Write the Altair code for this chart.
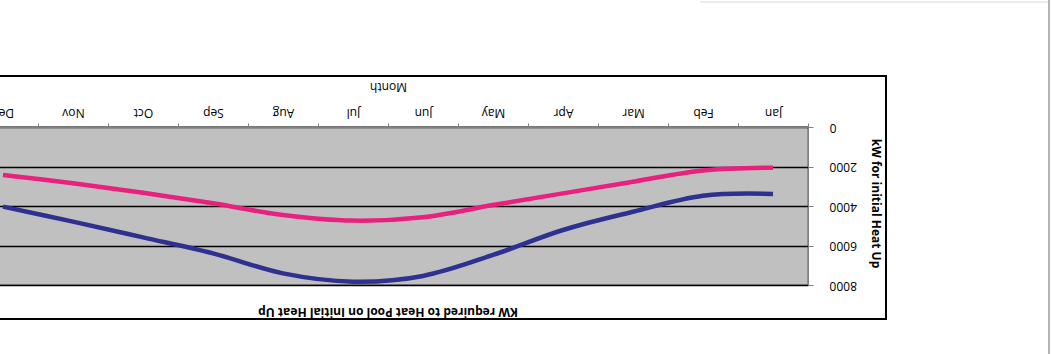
import altair as alt
import pandas as pd

months = ["Jan", "Feb", "Mar", "Apr", "May", "Jun", "Jul", "Aug", "Sep", "Oct", "Nov", "Dec"]
series_names = ["Series1", "Series2"]
kw_series1 = [3390, 3480, 4290, 5215, 6480, 7540, 7830, 7410, 6400, 5590, 4790, 4030]
kw_series2 = [2060, 2200, 2770, 3360, 3950, 4570, 4740, 4455, 3865, 3325, 2850, 2430]
y_ticks = [0, 2000, 4000, 6000, 8000]
colors = ["#2E3190", "#E8207E"]

rows = []
for m, a, b in zip(months, kw_series1, kw_series2):
    rows.append({"Month": m, "kW": a, "series": series_names[0]})
    rows.append({"Month": m, "kW": b, "series": series_names[1]})
df = pd.DataFrame(rows)

FONT = "Open Sans"
W, H = 840, 158

x_enc = alt.X(
    "Month:N",
    bandPosition=0.5,
    scale=alt.Scale(type="band", domain=months, reverse=True, paddingInner=0, paddingOuter=0),
    axis=alt.Axis(
        orient="top", title="Month", grid=False,
        labelAngle=180, labelBaseline="top", labelPadding=6, labelFontSize=12,
        labelFont=FONT, labelColor="black",
        tickSize=4, tickBand="extent", tickColor="#808080", domainColor="#808080",
        titleAngle=180, titleBaseline="top", titleX=W / 2, titleY=-36,
        titleFont=FONT, titleFontSize=12, titleFontWeight="normal", titleColor="black",
    ),
)
y_enc = alt.Y(
    "kW:Q",
    scale=alt.Scale(domain=[0, 8000], reverse=True, nice=False),
    axis=alt.Axis(
        orient="right", values=y_ticks, format="d", title="kW for initial Heat Up",
        labelAngle=180, labelAlign="right", labelBaseline="middle", labelPadding=16,
        labelFontSize=12, labelFont=FONT, labelColor="black",
        tickSize=5, tickColor="#808080", domainColor="#808080",
        grid=True, gridColor="black", gridWidth=1.5,
        titleAngle=90, titleX=67, titleY=H / 2 - 3, titleAlign="center", titleBaseline="middle",
        titleFont=FONT, titleFontSize=12, titleFontWeight="bold", titleColor="black",
    ),
)

lines = alt.Chart(df).mark_line(interpolate="cardinal", strokeWidth=4.5).encode(
    x=x_enc,
    y=y_enc,
    color=alt.Color("series:N", scale=alt.Scale(domain=series_names, range=colors), legend=None),
)

one = pd.DataFrame({"k": [0]})
border = alt.Chart(one).mark_rect(fill=None, stroke="black", strokeWidth=2).encode(
    x=alt.value(-40), x2=alt.value(918), y=alt.value(-51), y2=alt.value(192)
)
top_rule = alt.Chart(one).mark_rule(color="#e6e6e6", strokeWidth=1.5).encode(
    x=alt.value(732), x2=alt.value(1081), y=alt.value(-125)
)
side_rule = alt.Chart(one).mark_rule(color="#b4b4b4", strokeWidth=2).encode(
    x=alt.value(1081), y=alt.value(-127), y2=alt.value(227)
)

chart = alt.layer(lines, border, top_rule, side_rule).properties(
    width=W, height=H,
    autosize=alt.AutoSizeParams(type="none"),
    padding={"left": -32, "top": 127, "right": 244, "bottom": 69},
    background="white",
    title=alt.TitleParams(
        "KW required to Heat Pool on Initial Heat Up",
        orient="bottom", angle=180, anchor="middle", frame="group", baseline="top",
        offset=-38, font=FONT, fontSize=12, fontWeight="bold", color="black",
    ),
).configure_view(fill="#C0C0C0", stroke="#808080", strokeWidth=1.5)

chart.save("out.html", embed_options={"renderer": "svg", "actions": False})
